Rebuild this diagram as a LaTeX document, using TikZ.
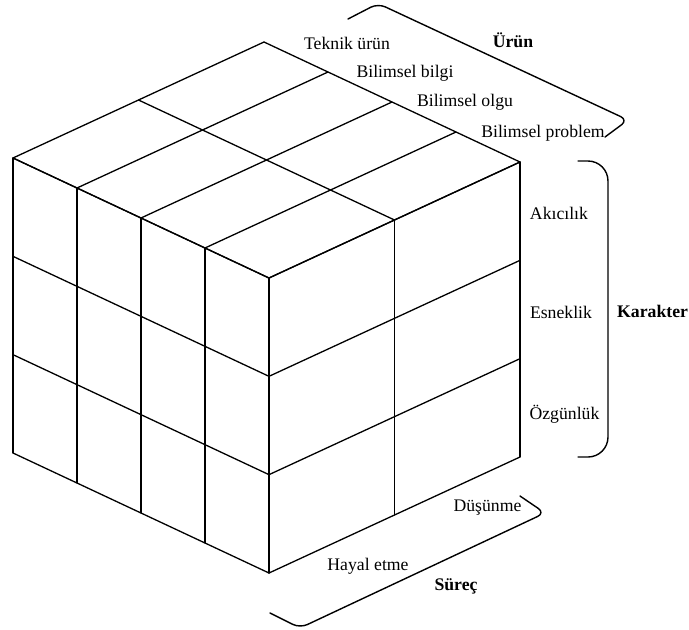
\documentclass[tikz,border=0pt]{standalone}
\usepackage{fontspec}
\setmainfont{Liberation Serif}
\usetikzlibrary{calc}
\begin{document}
\begin{tikzpicture}[x=1pt,y=-1pt,
  grid/.style={line width=1.3pt, line join=round, line cap=round},
  brace/.style={line width=1.4pt, line join=round, line cap=round, rounded corners=8pt},
  lbl/.style={font=\fontsize{17.7}{20}\selectfont, inner sep=0pt, anchor=base},
  ttl/.style={font=\fontsize{17.7}{20}\selectfont\bfseries, inner sep=0pt, anchor=base}]
\useasboundingbox (0,0) rectangle (689,630);
\coordinate (L) at (13,158);
\coordinate (N) at (269,278);
\coordinate (R) at (520,162);
\coordinate (B) at (264,42);
\coordinate (Lb) at (13,453);
\coordinate (Nb) at (269,573);
\coordinate (Rb) at (520,457);
% left face verticals and top face lines along L-B
\foreach \i in {0,...,4} {
  \draw[grid] ($(L)!{\i/4}!(N)$) -- ($(Lb)!{\i/4}!(Nb)$);
  \draw[grid] ($(L)!{\i/4}!(N)$) -- ($(B)!{\i/4}!(R)$);
}
% horizontal rows on both side faces
\foreach \j in {0,...,3} {
  \draw[grid] ($(L)!{\j/3}!(Lb)$) -- ($(N)!{\j/3}!(Nb)$) -- ($(R)!{\j/3}!(Rb)$);
}
% right face verticals and top face lines along L-N
\foreach \k in {0,1,2} {
  \draw[grid] ($(N)!{\k/2}!(R)$) -- ($(Nb)!{\k/2}!(Rb)$);
  \draw[grid] ($(L)!{\k/2}!(B)$) -- ($(N)!{\k/2}!(R)$);
}
% braces
\coordinate (u1) at (348,19);
\coordinate (u2) at (378,3.5);
\coordinate (u3) at (628,120);
\coordinate (u4) at (605,137);
\draw[brace] (u1) -- (u2) -- (u3) -- (u4);
\coordinate (k1) at (578,161);
\coordinate (k2) at (608,161);
\coordinate (k3) at (608,457);
\coordinate (k4) at (578,457);
\draw[brace, rounded corners=20pt] (k1) -- (k2) -- (k3) -- (k4);
\coordinate (s1) at (520,496);
\coordinate (s2) at (545,513);
\coordinate (s3) at (300,628);
\coordinate (s4) at (270,613);
\draw[brace] (s1) -- (s2) -- (s3) -- (s4);
% labels
\node[lbl] (t1) at (347,49) {Teknik ürün};
\node[lbl] (t2) at (405,77) {Bilimsel bilgi};
\node[lbl] (t3) at (465,106) {Bilimsel olgu};
\node[lbl] (t4) at (543,137) {Bilimsel problem};
\node[ttl] (urun) at (513,47) {Ürün};
\node[lbl] (a1) at (559,219) {Akıcılık};
\node[lbl] (a2) at (561,318) {Esneklik};
\node[lbl] (a3) at (564.5,419) {Özgünlük};
\node[ttl, anchor=base west] (kar) at (617,317) {Karakter};
\node[lbl] (d1) at (487.5,511) {Düşünme};
\node[lbl] (d2) at (368,570.5) {Hayal etme};
\node[ttl] (surec) at (456,590) {Süreç};
\end{tikzpicture}
\end{document}
